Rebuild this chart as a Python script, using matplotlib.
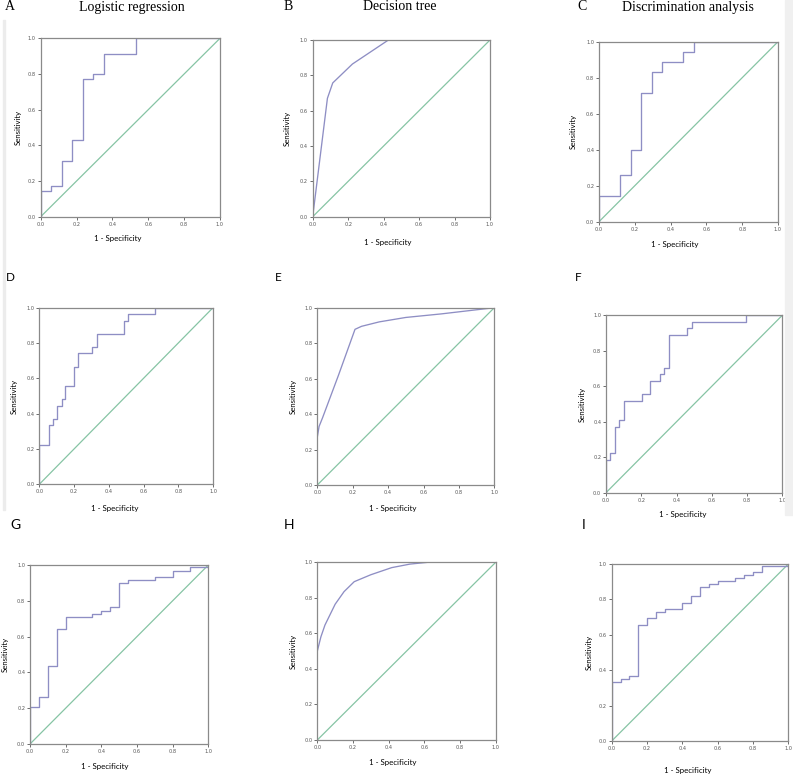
import matplotlib.pyplot as plt
from matplotlib.patches import Rectangle

# ROC operating points (1 - specificity, sensitivity)
a_fpr = [0, 0, 0.059, 0.118, 0.176, 0.235, 0.294, 0.353, 0.529, 1.0]
a_tpr = [0, 0.143, 0.171, 0.314, 0.429, 0.771, 0.800, 0.914, 1.0, 1.0]

b_fpr = [0, 0.083, 0.113, 0.224, 0.427, 1.0]
b_tpr = [0, 0.670, 0.757, 0.864, 1.0, 1.0]

c_fpr = [0, 0, 0.118, 0.176, 0.235, 0.294, 0.353, 0.471, 0.529, 1.0]
c_tpr = [0, 0.143, 0.257, 0.400, 0.714, 0.829, 0.886, 0.943, 1.0, 1.0]

d_fpr = [0, 0, 0.054, 0.077, 0.100, 0.128, 0.149, 0.199, 0.224, 0.305, 0.330, 0.485, 0.511, 0.665, 1.0]
d_tpr = [0, 0.222, 0.333, 0.370, 0.444, 0.481, 0.556, 0.667, 0.741, 0.778, 0.852, 0.926, 0.963, 1.0, 1.0]

e_fpr = [0, 0, 0.01, 0.03, 0.12, 0.213, 0.25, 0.35, 0.50, 0.70, 1.0]
e_tpr = [0, 0.27, 0.33, 0.38, 0.62, 0.878, 0.895, 0.92, 0.945, 0.965, 1.0]

f_fpr = [0, 0, 0.023, 0.051, 0.074, 0.102, 0.204, 0.251, 0.304, 0.331, 0.355, 0.457, 0.486, 0.794, 1.0]
f_tpr = [0, 0.185, 0.222, 0.370, 0.407, 0.519, 0.556, 0.630, 0.667, 0.704, 0.889, 0.926, 0.963, 1.0, 1.0]

g_fpr = [0, 0, 0.05, 0.10, 0.15, 0.20, 0.35, 0.40, 0.45, 0.50, 0.55, 0.70, 0.80, 0.90, 1.0]
g_tpr = [0, 0.209, 0.261, 0.434, 0.640, 0.710, 0.726, 0.745, 0.763, 0.898, 0.916, 0.935, 0.968, 0.987, 1.0]

h_fpr = [0, 0, 0.02, 0.043, 0.10, 0.15, 0.207, 0.30, 0.417, 0.52, 0.62, 1.0]
h_tpr = [0, 0.50, 0.58, 0.647, 0.764, 0.835, 0.891, 0.93, 0.97, 0.99, 1.0, 1.0]

i_fpr = [0, 0, 0.05, 0.10, 0.15, 0.20, 0.25, 0.30, 0.40, 0.45, 0.50, 0.55, 0.60, 0.70, 0.75, 0.80, 0.85, 1.0]
i_tpr = [0, 0.331, 0.350, 0.367, 0.657, 0.693, 0.727, 0.746, 0.780, 0.817, 0.870, 0.887, 0.904, 0.921, 0.938, 0.955, 0.990, 1.0]

panels = [
    # letter, fpr, tpr, step?, axes box in pixels (x0, x1, ytop, ybottom)
    ("A", a_fpr, a_tpr, True, (40.7, 220, 38.3, 216.7)),
    ("B", b_fpr, b_tpr, False, (312.7, 490, 40, 216.7)),
    ("C", c_fpr, c_tpr, True, (599, 778, 41.7, 221.7)),
    ("D", d_fpr, d_tpr, True, (39.3, 213, 307.7, 484.3)),
    ("E", e_fpr, e_tpr, False, (317.3, 494.3, 307.7, 485)),
    ("F", f_fpr, f_tpr, True, (606, 782.3, 315.3, 492.7)),
    ("G", g_fpr, g_tpr, True, (30, 208.3, 565, 744)),
    ("H", h_fpr, h_tpr, False, (317.3, 495.7, 562.3, 740)),
    ("I", i_fpr, i_tpr, True, (611.7, 788.3, 564, 741)),
]

# letter position, ylabel x, xlabel position (pixels)
letter_pos = {"A": (10, 7), "B": (288, 7), "C": (582, 7),
              "D": (10, 278), "E": (278, 278), "F": (578, 278),
              "G": (15, 525), "H": (289, 525), "I": (584, 525)}
ylab_x = {"A": 18, "B": 287, "C": 573, "D": 14, "E": 293, "F": 582,
          "G": 5, "H": 293, "I": 589}
xlab_pos = {"A": (118, 238), "B": (388, 242), "C": (675, 245),
            "D": (115, 509), "E": (393, 509), "F": (683, 515),
            "G": (105, 766), "H": (393, 763), "I": (688, 770)}

titles = {"A": "Logistic regression", "B": "Decision tree", "C": "Discrimination analysis"}
title_x = {"A": 132, "B": 400, "C": 688}

W, H = 793, 775
fig = plt.figure(figsize=(W / 100, H / 100), dpi=100)

# faint page edges from the scanned figure
fig.patches.append(Rectangle((3 / W, 1 - 510 / H), 2 / W, 490 / H, transform=fig.transFigure,
                             color="#ececec", zorder=0))
fig.patches.append(Rectangle((785 / W, 1 - 515 / H), 8 / W, 515 / H, transform=fig.transFigure,
                             color="#f0f0f0", zorder=0))

curve_col = "#8e8ec4"
diag_col = "#86c4a4"
sans = "Lato"
serif = "Liberation Serif"

for letter, fpr, tpr, step, (x0, x1, yt, yb) in panels:
    ax = fig.add_axes([x0 / W, 1 - yb / H, (x1 - x0) / W, (yb - yt) / H])
    ax.plot([0, 1], [0, 1], color=diag_col, lw=0.9)
    if step:
        ax.plot(fpr, tpr, color=curve_col, lw=0.95, drawstyle="steps-post")
    else:
        ax.plot(fpr, tpr, color=curve_col, lw=0.95)
    ax.set_xlim(0, 1)
    ax.set_ylim(0, 1)
    ticks = [0, 0.2, 0.4, 0.6, 0.8, 1.0]
    ax.set_xticks(ticks)
    ax.set_yticks(ticks)
    ax.set_xticklabels(["%.1f" % t for t in ticks])
    ax.set_yticklabels(["%.1f" % t for t in ticks])
    ax.tick_params(labelsize=3.6, length=2, width=0.6, pad=1.5, colors="#555555")
    for s in ax.spines.values():
        s.set_color("#8a8a8a")
        s.set_linewidth(0.9)

    lx, ly = letter_pos[letter]
    if letter in titles:
        fig.text(lx / W, 1 - ly / H, letter, family=serif, fontsize=10, ha="center", va="center")
        fig.text(title_x[letter] / W, 1 - ly / H, titles[letter], family=serif, fontsize=10,
                 ha="center", va="center")
    else:
        fs = 8.5 if letter in "DEF" else 10
        fig.text(lx / W, 1 - ly / H, letter, family=sans, fontsize=fs, ha="center", va="center")

    fig.text(ylab_x[letter] / W, 1 - (yt + yb) / 2 / H, "Sensitivity", family=sans, fontsize=5.6,
             rotation=90, ha="center", va="center")
    xx, xy = xlab_pos[letter]
    fig.text(xx / W, 1 - xy / H, "1 - Specificity", family=sans, fontsize=5.7, ha="center", va="center")

fig.savefig("out.png", dpi=100)
